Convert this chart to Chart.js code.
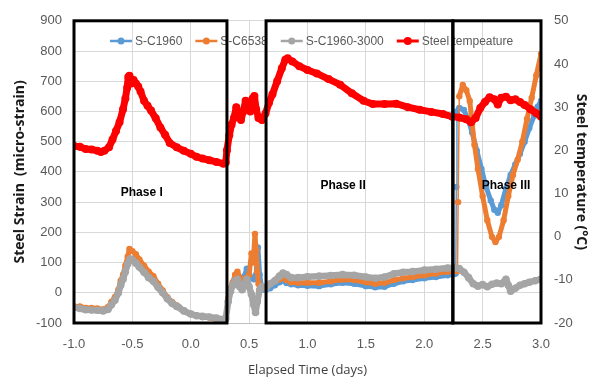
<!DOCTYPE html>
<html>
<head>
<meta charset="utf-8">
<script src="https://cdn.jsdelivr.net/npm/chart.js@4.4.1/dist/chart.umd.min.js"></script>
<style>
html,body{margin:0;padding:0;background:#fff;}
#wrap{width:597px;height:383px;position:relative;}
</style>
</head>
<body>
<div id="wrap"><canvas id="c" width="597" height="383"></canvas></div>
<script>
// ---------- DATA ----------
const seriesNames = ["S-C1960", "S-C6538", "S-C1960-3000", "Steel tempeature"];

const tTemp = [-1.00,-0.95,-0.90,-0.85,-0.80,-0.77,-0.74,-0.70,-0.67,-0.64,-0.61,-0.58,-0.56,-0.545,-0.535,-0.525,-0.51,-0.49,-0.47,-0.45,-0.43,-0.40,-0.37,-0.34,-0.30,-0.26,-0.22,-0.18,-0.12,-0.06,0.00,0.05,0.10,0.16,0.22,0.28,0.30,0.31,0.33,0.35,0.37,0.39,0.41,0.43,0.45,0.47,0.49,0.51,0.53,0.545,0.56,0.58,0.61,0.64,0.67,0.70,0.74,0.78,0.81,0.83,0.87,0.93,1.00,1.08,1.18,1.28,1.38,1.48,1.56,1.66,1.76,1.86,1.96,2.06,2.16,2.24,2.30,2.36,2.40,2.44,2.48,2.52,2.56,2.60,2.63,2.66,2.70,2.74,2.78,2.82,2.86,2.91,2.96,3.00];
const temp  = [21.0,20.8,20.3,20.2,19.9,19.6,19.9,20.7,22.5,24.5,26.5,29.5,32.0,34.5,37.0,37.3,35.5,36.3,35.5,34.8,33.6,31.5,30.3,29.2,27.4,25.3,23.6,21.7,20.7,19.9,19.2,18.5,18.1,17.7,17.3,16.9,17.2,20.0,23.5,26.0,27.5,30.0,28.5,27.0,29.0,31.5,30.5,29.0,32.0,32.6,29.5,27.5,27.0,28.5,31.0,33.0,36.0,39.0,41.0,41.3,40.6,39.5,38.6,37.8,36.5,35.2,33.2,31.5,30.7,30.7,30.8,30.0,29.4,28.9,28.4,27.8,27.6,27.2,26.5,27.5,29.8,31.2,32.3,31.8,30.6,32.2,32.4,31.6,31.8,31.2,30.5,29.5,28.6,27.8];

const tGray = [-1.00,-0.95,-0.90,-0.85,-0.80,-0.75,-0.71,-0.68,-0.65,-0.62,-0.60,-0.58,-0.56,-0.54,-0.52,-0.50,-0.47,-0.44,-0.40,-0.36,-0.32,-0.28,-0.24,-0.20,-0.16,-0.12,-0.06,0.00,0.05,0.10,0.16,0.22,0.28,0.30,0.32,0.34,0.36,0.38,0.40,0.42,0.44,0.46,0.48,0.50,0.52,0.54,0.555,0.57,0.59,0.61,0.64,0.68,0.72,0.76,0.79,0.82,0.86,0.92,1.00,1.10,1.20,1.30,1.40,1.50,1.58,1.66,1.74,1.82,1.90,2.00,2.10,2.20,2.26,2.30,2.34,2.38,2.42,2.46,2.50,2.54,2.58,2.62,2.66,2.70,2.72,2.74,2.78,2.82,2.86,2.90,2.95,3.00];
const gray  = [-48,-52,-56,-57,-58,-60,-55,-40,-25,0,25,45,70,95,112,108,98,85,68,50,38,18,0,-20,-35,-45,-60,-70,-76,-78,-80,-84,-88,-85,-30,5,25,40,45,20,10,30,45,20,-5,-40,-65,-30,10,20,15,30,40,55,65,60,50,50,53,55,57,60,58,52,48,52,63,68,70,75,78,82,82,80,68,50,30,22,27,20,28,32,30,45,25,5,15,25,30,35,40,45];

const tOrange = [-1.00,-0.95,-0.90,-0.85,-0.80,-0.75,-0.71,-0.68,-0.65,-0.62,-0.60,-0.58,-0.56,-0.54,-0.525,-0.50,-0.47,-0.44,-0.40,-0.36,-0.32,-0.28,-0.24,-0.20,-0.16,-0.12,-0.06,0.00,0.05,0.10,0.16,0.22,0.28,0.30,0.32,0.34,0.36,0.38,0.40,0.42,0.44,0.46,0.48,0.50,0.52,0.535,0.55,0.56,0.57,0.58,0.60,0.64,0.68,0.72,0.76,0.79,0.82,0.86,0.92,1.00,1.10,1.20,1.30,1.40,1.50,1.58,1.66,1.74,1.82,1.90,2.00,2.10,2.20,2.26,2.285,2.29,2.30,2.33,2.36,2.39,2.41,2.43,2.46,2.50,2.54,2.58,2.61,2.64,2.68,2.72,2.76,2.80,2.84,2.88,2.92,2.96,3.00];
const orange  = [-45,-45,-50,-50,-52,-55,-48,-30,-15,10,40,60,90,120,145,138,128,110,90,70,55,30,8,-15,-30,-42,-58,-70,-76,-80,-82,-88,-95,-90,-20,15,35,60,70,50,35,45,50,60,130,100,195,140,70,30,20,20,30,38,45,50,42,35,33,33,33,38,44,42,35,30,33,42,48,52,58,64,70,72,72,300,650,688,670,635,560,490,410,320,240,185,168,185,240,320,390,440,500,575,645,720,790];

const tBlue = [-1.00,-0.90,-0.80,-0.75,-0.70,-0.65,-0.60,-0.56,-0.53,-0.50,-0.45,-0.40,-0.35,-0.30,-0.25,-0.20,-0.15,-0.10,-0.05,0.00,0.10,0.20,0.28,0.30,0.32,0.34,0.36,0.38,0.40,0.42,0.44,0.46,0.48,0.50,0.52,0.54,0.56,0.575,0.59,0.61,0.64,0.68,0.72,0.76,0.79,0.82,0.86,0.92,1.00,1.10,1.20,1.30,1.40,1.50,1.58,1.66,1.74,1.82,1.90,2.00,2.10,2.20,2.26,2.27,2.275,2.28,2.30,2.34,2.38,2.41,2.45,2.49,2.53,2.57,2.60,2.63,2.66,2.70,2.74,2.78,2.82,2.86,2.90,2.94,2.97,3.00];
const blue  = [-45,-55,-57,-58,-50,-22,28,75,110,112,92,72,50,32,5,-20,-38,-48,-60,-70,-80,-84,-92,-88,-25,10,30,50,55,35,40,55,80,60,50,45,60,150,60,10,10,15,25,35,40,32,28,25,23,22,28,33,30,22,18,20,30,38,42,48,52,58,62,65,350,600,612,605,570,530,470,410,350,305,275,265,290,345,390,425,460,500,545,585,615,635];

const xTicks = {min: -1.0, max: 3.0, step: 0.5};
const strainTicks = {min: -100, max: 900, step: 100};
const tempTicks = {min: -20, max: 50, step: 10};

const phaseLabels = ["Phase I", "Phase II", "Phase III"];
const phaseStart  = [-1.0, 0.645, 2.245];
const phaseEnd    = [0.31, 2.245, 3.0];
const phaseLabelX = [-0.42, 1.305, 2.70];
const phaseLabelY = [331, 354, 354];

// ---------- BUILD ----------
const zip = (xs, ys) => xs.map((x, i) => ({x: x, y: ys[i]}));
const colors = ['#5B9BD5', '#ED7D31', '#A5A5A5', '#FF0000'];

function thinJump(w) {
  return {borderWidth: ctx => Math.abs(ctx.p1.y - ctx.p0.y) > 40 ? 1.5 : w};
}

const common = {borderJoinStyle: 'round', borderCapStyle: 'round', pointBorderWidth: 0};
const datasets = [
  Object.assign({label: seriesNames[0], data: zip(tBlue, blue), yAxisID: 'y', order: 3,
   borderColor: colors[0], backgroundColor: colors[0], borderWidth: 5, pointRadius: 3.2, segment: thinJump(5)}, common),
  Object.assign({label: seriesNames[1], data: zip(tOrange, orange), yAxisID: 'y', order: 2,
   borderColor: colors[1], backgroundColor: colors[1], borderWidth: 5, pointRadius: 3.2, segment: thinJump(5)}, common),
  Object.assign({label: seriesNames[2], data: zip(tGray, gray), yAxisID: 'y', order: 1,
   borderColor: colors[2], backgroundColor: colors[2], borderWidth: 6.5, pointRadius: 3.8}, common),
  Object.assign({label: seriesNames[3], data: zip(tTemp, temp), yAxisID: 'y1', order: 0,
   borderColor: colors[3], backgroundColor: colors[3], borderWidth: 7, pointRadius: 4}, common)
];

const overlay = {
  id: 'overlay',
  afterDatasetsDraw(chart) {
    const ctx = chart.ctx;
    const xs = chart.scales.x, ys = chart.scales.y;
    // legend
    ctx.save();
    ctx.font = '12px "Liberation Sans", Arial, sans-serif';
    ctx.textBaseline = 'middle';
    let lx = 110;
    const ly = 41;
    chart.data.datasets.forEach((ds, i) => {
      ctx.strokeStyle = ds.borderColor;
      ctx.fillStyle = ds.borderColor;
      ctx.lineWidth = i === 3 ? 3 : 2.5;
      ctx.beginPath(); ctx.moveTo(lx, ly); ctx.lineTo(lx + 22, ly); ctx.stroke();
      ctx.beginPath(); ctx.arc(lx + 11, ly, i === 3 ? 4 : 3.5, 0, Math.PI * 2); ctx.fill();
      ctx.fillStyle = '#595959';
      ctx.fillText(ds.label, lx + 25, ly + 0.5);
      lx += 25 + ctx.measureText(ds.label).width + 13;
    });
    // phase labels
    ctx.fillStyle = '#000';
    ctx.font = 'bold 12px "Liberation Sans", Arial, sans-serif';
    ctx.textAlign = 'center';
    phaseLabels.forEach((p, i) => {
      ctx.fillText(p, xs.getPixelForValue(phaseLabelX[i]), ys.getPixelForValue(phaseLabelY[i]));
    });
    // phase boxes
    ctx.strokeStyle = '#000';
    ctx.lineWidth = 3;
    const top = ys.getPixelForValue(strainTicks.max), bot = ys.getPixelForValue(strainTicks.min);
    phaseStart.forEach((s, i) => {
      const x0 = xs.getPixelForValue(s), x1 = xs.getPixelForValue(phaseEnd[i]);
      ctx.strokeRect(x0, top, x1 - x0, bot - top);
    });
    ctx.restore();
  }
};

const tickFont = {family: '"Liberation Sans", Arial, sans-serif', size: 13};
const titleFont = {family: '"Open Sans", "Liberation Sans", sans-serif', size: 14, weight: 'bold'};

new Chart(document.getElementById('c'), {
  type: 'line',
  data: {datasets: datasets},
  plugins: [overlay],
  options: {
    responsive: false,
    animation: false,
    layout: {padding: {top: 14, left: 0, right: 0, bottom: 0}},
    plugins: {legend: {display: false}, tooltip: {enabled: false}},
    elements: {line: {tension: 0}},
    scales: {
      x: {
        type: 'linear', min: xTicks.min, max: xTicks.max,
        afterFit: s => { s.height = 60; },
        ticks: {stepSize: xTicks.step, color: '#595959', font: tickFont, padding: 14,
                callback: v => Number(v).toFixed(1)},
        grid: {color: '#d9d9d9', drawTicks: false},
        border: {display: true, color: '#bfbfbf'},
        title: {display: true, text: 'Elapsed Time (days)', color: '#404040',
                font: {family: '"Open Sans", "Liberation Sans", sans-serif', size: 13}, padding: {top: 0, bottom: 5}}
      },
      y: {
        position: 'left', min: strainTicks.min, max: strainTicks.max,
        afterFit: s => { s.width = 74; },
        ticks: {stepSize: strainTicks.step, color: '#595959', font: tickFont, padding: 12},
        grid: {color: '#d9d9d9', drawTicks: false},
        border: {display: false},
        title: {display: true, text: 'Steel Strain  (micro-strain)', color: '#1a1a1a', font: titleFont, padding: {top: 12, bottom: 0}}
      },
      y1: {
        position: 'right', min: tempTicks.min, max: tempTicks.max,
        afterFit: s => { s.width = 56; },
        ticks: {stepSize: tempTicks.step, color: '#595959', font: tickFont, padding: 13},
        grid: {display: false, drawTicks: false},
        border: {display: false},
        title: {display: true, text: 'Steel temperature (°C)', color: '#1a1a1a', font: titleFont, padding: {top: 8, bottom: 0}}
      }
    }
  }
});
</script>
</body>
</html>
